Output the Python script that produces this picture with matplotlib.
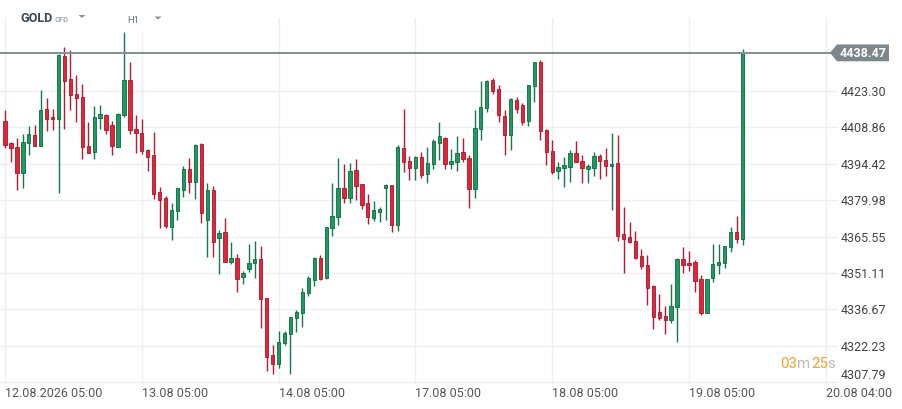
import matplotlib
matplotlib.use("Agg")
import matplotlib.pyplot as plt
from matplotlib.patches import Polygon, Rectangle
import numpy as np

plt.rcParams['font.family'] = ['Roboto', 'DejaVu Sans']

# H1 candles, 23 bars per trading day, first bar = 12.08 05:00
opens = [4411.6, 4402.5, 4401.2, 4390.6, 4402.8, 4406.0, 4401.6, 4416.2, 4413.0, 4412.3,
         4437.2, 4428.0, 4422.1, 4420.9, 4401.6, 4399.3, 4412.5, 4413.8, 4409.9, 4401.2,
         4413.7, 4427.6, 4408.3, 4406.7, 4400.0, 4398.1, 4383.1, 4380.7, 4369.2, 4375.6,
         4384.2, 4392.3, 4387.3, 4402.4, 4372.3, 4383.9, 4365.0, 4367.4, 4355.5, 4357.1,
         4349.6, 4352.6, 4355.0, 4356.5, 4341.0, 4318.5, 4315.2, 4323.5, 4326.8, 4333.1,
         4335.1, 4343.3, 4348.4, 4357.1, 4349.1, 4368.9, 4373.3, 4384.7, 4381.0, 4391.8,
         4386.3, 4378.8, 4373.1, 4375.5, 4384.7, 4385.9, 4370.0, 4400.8, 4395.7, 4392.8,
         4397.0, 4390.2, 4394.4, 4402.8, 4404.8, 4394.4, 4395.2, 4399.3, 4396.9, 4384.6,
         4408.3, 4416.5, 4427.6, 4424.1, 4413.4, 4405.8, 4419.7, 4417.8, 4411.3, 4425.1,
         4434.7, 4407.9, 4399.7, 4391.4, 4392.8, 4393.2, 4398.9, 4395.7, 4392.4, 4392.8,
         4397.7, 4396.1, 4393.6, 4394.9, 4366.7, 4365.4, 4363.9, 4357.9, 4354.4, 4346.1,
         4335.8, 4334.0, 4332.6, 4337.7, 4356.5, 4355.1, 4355.3, 4348.6, 4335.3, 4349.1,
         4354.2, 4355.0, 4361.3, 4367.5, 4364.6]
closes = [4402.0, 4400.8, 4390.6, 4403.2, 4406.3, 4401.6, 4415.8, 4412.3, 4412.3, 4437.6,
          4427.2, 4421.6, 4420.4, 4401.2, 4398.9, 4413.0, 4414.0, 4407.9, 4401.5, 4414.2,
          4427.6, 4407.9, 4406.7, 4399.5, 4397.3, 4382.6, 4380.2, 4369.6, 4376.0, 4384.7,
          4392.3, 4387.3, 4402.0, 4374.8, 4383.9, 4363.4, 4367.1, 4355.5, 4357.1, 4348.8,
          4351.2, 4355.1, 4356.7, 4340.6, 4317.7, 4315.2, 4323.6, 4327.3, 4333.5, 4335.8,
          4343.7, 4349.0, 4357.1, 4348.6, 4369.3, 4373.7, 4384.7, 4381.0, 4391.4, 4385.5,
          4378.0, 4373.3, 4376.0, 4376.5, 4386.0, 4370.0, 4401.0, 4395.2, 4392.8, 4397.0,
          4390.1, 4394.9, 4403.3, 4405.6, 4394.5, 4395.4, 4398.9, 4396.4, 4384.6, 4408.7,
          4417.0, 4427.2, 4423.5, 4413.7, 4405.8, 4420.1, 4416.1, 4410.9, 4425.6, 4434.7,
          4407.4, 4399.1, 4391.2, 4393.3, 4394.1, 4398.9, 4395.2, 4392.8, 4393.5, 4397.7,
          4395.7, 4393.6, 4394.5, 4365.9, 4364.5, 4363.3, 4357.2, 4353.7, 4345.2, 4333.7,
          4333.3, 4332.6, 4338.2, 4356.5, 4354.2, 4354.2, 4347.9, 4335.1, 4348.6, 4354.7,
          4355.5, 4361.8, 4367.5, 4364.6, 4438.47]
highs = [4415.9, 4403.1, 4404.5, 4406.1, 4409.6, 4410.0, 4423.8, 4420.5, 4416.3, 4438.0,
         4440.9, 4439.6, 4429.7, 4426.2, 4411.2, 4417.5, 4417.9, 4414.0, 4411.6, 4414.4,
         4446.8, 4434.8, 4413.6, 4412.0, 4400.2, 4406.9, 4385.2, 4381.7, 4378.9, 4384.9,
         4393.6, 4396.6, 4402.2, 4402.6, 4386.8, 4385.6, 4368.1, 4373.0, 4363.5, 4358.8,
         4352.1, 4362.8, 4363.9, 4362.0, 4341.2, 4322.6, 4328.0, 4328.0, 4333.7, 4336.4,
         4345.0, 4349.8, 4357.3, 4358.4, 4369.5, 4386.8, 4396.6, 4394.3, 4394.7, 4396.2,
         4386.5, 4382.5, 4379.7, 4377.2, 4386.4, 4386.1, 4401.7, 4416.3, 4397.7, 4397.5,
         4399.3, 4401.0, 4404.1, 4411.2, 4405.0, 4400.2, 4405.6, 4404.5, 4398.1, 4415.9,
         4427.2, 4427.5, 4428.5, 4425.6, 4415.9, 4420.5, 4421.0, 4418.7, 4425.8, 4434.9,
         4435.6, 4408.1, 4403.7, 4395.0, 4397.2, 4399.8, 4403.3, 4398.1, 4394.5, 4399.3,
         4398.5, 4400.6, 4406.5, 4406.0, 4377.2, 4371.4, 4367.9, 4360.6, 4358.3, 4346.3,
         4342.7, 4337.9, 4346.9, 4357.1, 4361.4, 4359.9, 4356.1, 4350.5, 4348.8, 4362.8,
         4362.8, 4362.0, 4369.5, 4373.8, 4439.8]
lows = [4400.8, 4395.2, 4384.2, 4384.9, 4397.9, 4401.5, 4401.5, 4407.4, 4407.8, 4383.0,
        4408.3, 4415.9, 4410.9, 4396.4, 4398.7, 4396.5, 4408.3, 4406.2, 4397.8, 4401.0,
        4412.9, 4406.2, 4398.7, 4398.2, 4391.6, 4380.6, 4368.8, 4369.1, 4364.1, 4372.3,
        4381.4, 4383.0, 4380.6, 4370.8, 4357.4, 4357.4, 4350.7, 4355.3, 4354.6, 4343.6,
        4346.6, 4351.5, 4349.1, 4329.4, 4312.2, 4310.9, 4313.6, 4322.7, 4310.9, 4327.8,
        4329.8, 4341.9, 4345.9, 4348.3, 4348.6, 4365.6, 4370.0, 4378.9, 4378.9, 4380.2,
        4376.3, 4370.6, 4371.8, 4371.2, 4372.3, 4367.2, 4367.9, 4391.2, 4388.1, 4388.1,
        4388.8, 4386.8, 4392.3, 4396.0, 4392.3, 4392.3, 4391.5, 4395.0, 4376.9, 4380.9,
        4403.8, 4414.9, 4422.2, 4410.9, 4397.8, 4399.8, 4414.4, 4410.0, 4409.6, 4418.8,
        4403.7, 4393.9, 4390.3, 4388.5, 4385.2, 4387.3, 4395.0, 4386.8, 4386.8, 4389.7,
        4388.5, 4389.7, 4376.1, 4363.7, 4351.3, 4362.9, 4356.6, 4352.6, 4338.5, 4329.0,
        4332.4, 4327.0, 4331.2, 4323.9, 4351.3, 4351.9, 4343.5, 4334.4, 4335.1, 4347.5,
        4350.9, 4353.2, 4359.3, 4362.9, 4362.1]

last_price = 4438.47
day_ticks = [0, 23, 46, 69, 92, 115, 138]
day_labels = ["12.08.2026 05:00", "13.08 05:00", "14.08 05:00", "17.08 05:00",
              "18.08 05:00", "19.08 05:00", "20.08 04:00"]
price_ticks = [4307.79, 4322.23, 4336.67, 4351.11, 4365.55, 4379.98, 4394.42, 4408.86, 4423.30]

W, H = 902, 409
fig = plt.figure(figsize=(W / 100, H / 100), dpi=100)
fig.patch.set_facecolor('white')

# plot area in pixels: x 0..838, y 18..384
ax = fig.add_axes([0, (H - 384) / H, 838 / W, (384 - 18) / H])
ax.set_xlim(-0.84, 140.05)
ax.set_ylim(4307.08, 4452.26)
for s in ax.spines.values():
    s.set_visible(False)

ax.set_xticks(day_ticks)
ax.set_xticklabels(day_labels, ha='left')
ax.set_yticks(price_ticks)
ax.set_yticklabels([f"{p:.2f}" for p in price_ticks])
ax.yaxis.tick_right()
ax.tick_params(axis='both', length=0, labelsize=9, colors='#4a4a4a')
ax.tick_params(axis='x', pad=2.5, labelcolor='#555555')
ax.tick_params(axis='y', pad=2.2, labelcolor='#444444')
ax.grid(True, color='#eeeff1', linewidth=1.0)
ax.set_axisbelow(True)
ax.yaxis.get_major_ticks()[0].label2.set_va('bottom')

idx = np.arange(len(opens))
o = np.array(opens)
c = np.array(closes)
up = c >= o
wick_col = np.where(up, '#137a49', '#b41d2f')
face_col = np.where(up, '#1b9b5f', '#e5243c')
edge_col = np.where(up, '#0f6a40', '#a8182a')

ax.vlines(idx, lows, highs, colors=wick_col, linewidth=1.0, zorder=2)
body_bottom = np.minimum(o, c)
body_h = np.maximum(np.abs(c - o), 0.35)
ax.bar(idx, body_h, bottom=body_bottom, width=0.56, color=face_col,
       edgecolor=edge_col, linewidth=0.6, zorder=3)

# current price line
ax.axhline(last_price, color='#868e93', linewidth=1.4, zorder=4)

# overlay in pixel coordinates for header / labels
ov = fig.add_axes([0, 0, 1, 1])
ov.set_xlim(0, W)
ov.set_ylim(H, 0)
ov.axis('off')
ov.patch.set_alpha(0)

# price tag
yp = H - ax.transData.transform((0, last_price))[1]
tag = Polygon([(830, yp), (837, yp - 8.3), (889, yp - 8.3), (889, yp + 8.5),
               (837, yp + 8.5)], closed=True, facecolor='#7e878c', edgecolor='none')
ov.add_patch(tag)
ov.text(863.5, yp + 0.5, f"{last_price:.2f}", color='white', fontsize=9,
        fontweight='bold', ha='center', va='center')

# header
ov.add_patch(Rectangle((118, 0), 50, 31, facecolor='white', edgecolor='none'))
ov.text(20, 19, "GOLD", fontsize=9.1, fontweight='bold', color='#3c4650',
        ha='left', va='center')
ov.text(55, 19.3, "CFD", fontsize=5.5, fontweight='bold', color='#a0a7ac',
        ha='left', va='center')
ov.add_patch(Polygon([(78.5, 15), (85.5, 15), (82, 18)], closed=True,
                     facecolor='#8a9196', edgecolor='none'))
ov.text(127, 20.7, "H1", fontsize=6.8, color='#6b7378', ha='left', va='center')
ov.add_patch(Polygon([(154.5, 16.5), (161.5, 16.5), (158, 19.5)], closed=True,
                     facecolor='#8a9196', edgecolor='none'))

# countdown
ov.text(780, 364, "03", fontsize=10.8, color='#f5a22d', ha='left', va='center')
ov.text(797, 364, "m", fontsize=10.8, color='#b8bcbf', ha='left', va='center')
ov.text(811, 364, "25", fontsize=10.8, color='#f5a22d', ha='left', va='center')
ov.text(827.5, 364, "s", fontsize=10.8, color='#b8bcbf', ha='left', va='center')

fig.savefig("out.png", dpi=100, facecolor='white')
